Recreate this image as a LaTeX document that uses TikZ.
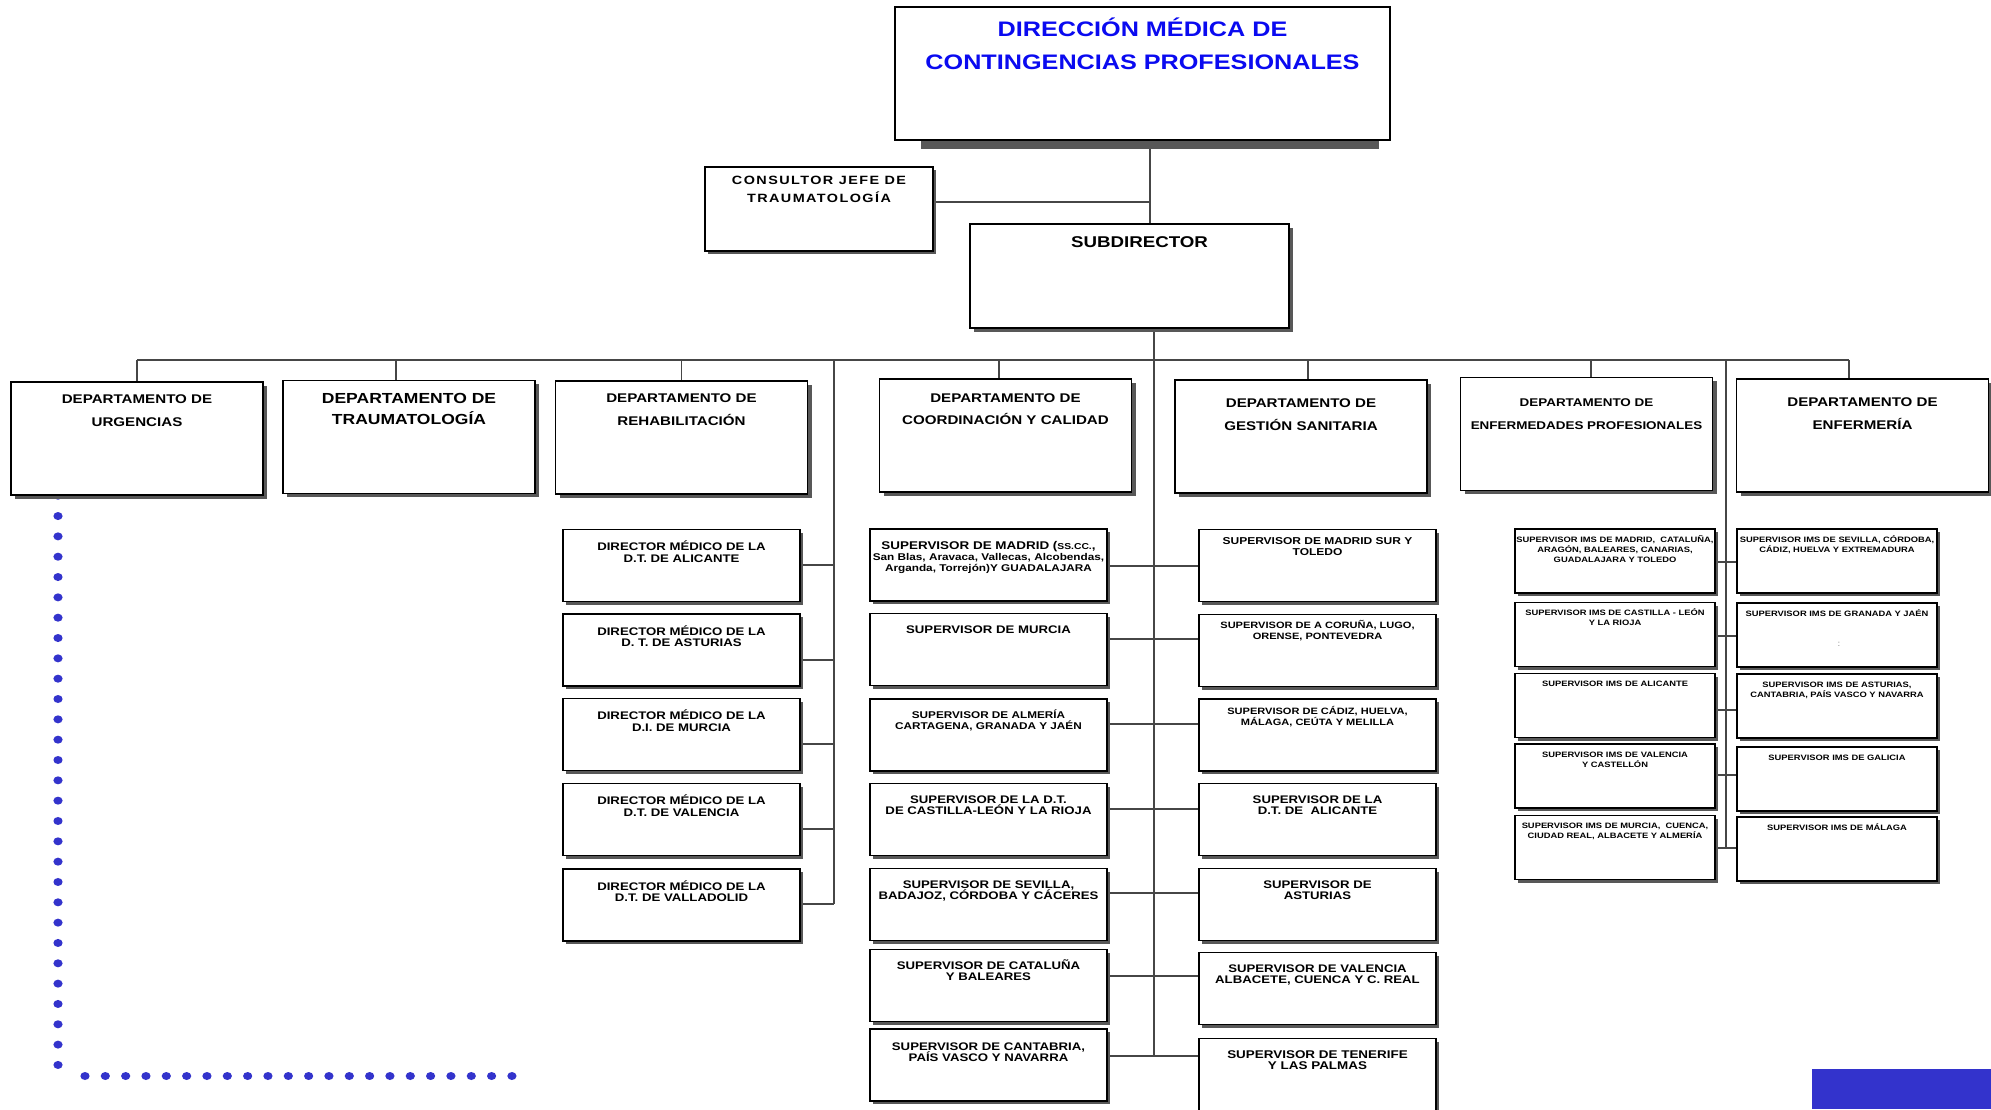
\documentclass[tikz,border=0pt]{standalone}
\usepackage{fontspec}
\setmainfont{Liberation Sans}[FakeStretch=1.2]
\usepackage{xcolor}
\usetikzlibrary{positioning,shadows,backgrounds}

\definecolor{titleblue}{RGB}{10,10,240}
\definecolor{dotblue}{RGB}{51,51,204}
\definecolor{shadowgray}{RGB}{88,88,88}
\definecolor{linegray}{RGB}{70,70,70}
\lineskiplimit=-20pt

\begin{document}
\begin{tikzpicture}[
      x=0.5pt, y=-0.5pt,
      box_plain/.style={
         draw=black,
         line width=0.6pt,
         fill=white,
         inner sep=0pt},
      box_big/.style={
         box_plain,
         drop shadow={shadow xshift=2pt,shadow yshift=-1.8pt,fill=shadowgray,opacity=1}},
      box_small/.style={
         box_plain,
         drop shadow={shadow xshift=1.5pt,shadow yshift=-1.5pt,fill=shadowgray,opacity=1}},
      box_dept/.style={
         box_big,
         minimum width=126pt,
         minimum height=56.5pt},
      box_sup/.style={
         box_small,
         minimum width=118.5pt,
         minimum height=36pt},
      box_ims/.style={
         box_small,
         minimum width=100pt,
         minimum height=32pt},
      txt/.style={
         inner sep=0pt,
         align=center},
      conn/.style={
         draw=linegray,
         line width=0.6pt}
]
      \useasboundingbox (0,0) rectangle (1991,1109);

      %direction
      \node[box_plain, minimum width=247.5pt, minimum height=66.5pt] (dir) at (1142.5,73.5) {};
      \fill[shadowgray] ([xshift=13.5pt,yshift=-0.3pt]dir.south west) rectangle ([xshift=-6pt,yshift=-4pt]dir.south east);
      \node[txt, font=\bfseries\fontsize{10.5}{16.5}\selectfont, text=titleblue,
            below=5.3pt of dir.north] (dir_txt) {DIRECCIÓN MÉDICA DE\\CONTINGENCIAS PROFESIONALES};

      %consultant and subdirector
      \node[box_small, minimum width=114pt, minimum height=42pt] (cons) at (819,209) {};
      \node[txt, font=\bfseries\fontsize{6}{8.7}\selectfont\addfontfeature{LetterSpace=12},
            below=4.9pt of cons.north] (cons_txt) {CONSULTOR JEFE DE\\TRAUMATOLOGÍA};
      \node[box_big, minimum width=159.5pt, minimum height=52pt] (sub) at (1129.5,276) {};
      \node[txt, font=\bfseries\fontsize{7.8}{9}\selectfont,
            below=6.2pt of sub.north, xshift=5pt] (sub_txt) {SUBDIRECTOR};

      %trunk points
      \coordinate (j_top) at (1150,202);
      \coordinate (bus) at (0,360);
      \coordinate (t_reh) at (834,904);
      \coordinate (t_mid) at (1154,1056);
      \coordinate (t_ims) at (1726,848);

      %blue dots
      \foreach \k in {0,...,28}
        \fill[dotblue] (58,495.7+20.33*\k) ellipse (2.3pt and 2pt);
      \foreach \k in {0,...,21}
        \fill[dotblue] (85+20.33*\k,1076) ellipse (2.3pt and 2pt);
      \fill[dotblue] (1812,1069) rectangle (1991,1109);

      %departments
      \foreach \nm/\cx/\cy/\fs/\bs/\dy/\txt in {% name/x/y/size/skip/offset/text
        urg/137/438.5/6.3/11.5/6.6pt/{DEPARTAMENTO DE\\URGENCIAS},
        trau/409/437/7.3/10.8/6.3pt/{DEPARTAMENTO DE\\TRAUMATOLOGÍA},
        reh/681.5/437.5/6.3/11.5/6.6pt/{DEPARTAMENTO DE\\REHABILITACIÓN},
        coord/1005.5/435.5/6.3/11.4/7.2pt/{DEPARTAMENTO DE\\COORDINACIÓN Y CALIDAD},
        gest/1301/436.5/6.3/11.5/9.2pt/{DEPARTAMENTO DE\\GESTIÓN SANITARIA},
        enfp/1586.5/434/5.6/11.5/10.5pt/{DEPARTAMENTO DE\\ENFERMEDADES PROFESIONALES},
        enfm/1862.5/435.5/6.3/11.5/9.2pt/{DEPARTAMENTO DE\\ENFERMERÍA}}
      {
        \node[box_dept] (\nm) at (\cx,\cy) {};
        \node[txt, font=\bfseries\fontsize{\fs}{\bs}\selectfont, below=\dy of \nm.north] (\nm_txt) {\txt};
      }

      %directors of rehabilitation
      \foreach \nm/\cy/\txt in {% name/y/text
        rd1/565.5/{DIRECTOR MÉDICO DE LA\\D.T. DE ALICANTE},
        rd2/650/{DIRECTOR MÉDICO DE LA\\D. T. DE ASTURIAS},
        rd3/734.5/{DIRECTOR MÉDICO DE LA\\D.I. DE MURCIA},
        rd4/819.5/{DIRECTOR MÉDICO DE LA\\D.T. DE VALENCIA},
        rd5/905/{DIRECTOR MÉDICO DE LA\\D.T. DE VALLADOLID}}
      {
        \node[box_sup] (\nm) at (681.5,\cy) {};
        \node[txt, font=\bfseries\fontsize{5.5}{5.6}\selectfont, below=5.9pt of \nm.north] (\nm_txt) {\txt};
      }

      %supervisors, coordination (left) and management (right)
      \foreach \nm/\cx/\cy/\fs/\dy/\txt in {% name/x/y/size/offset/text
        cs1/988.5/565/4.9/6.3pt/{{\fontsize{5.6}{5.7}\selectfont SUPERVISOR DE MADRID ({\fontsize{4.3}{5}\selectfont SS.CC.},}\\San Blas, Aravaca, Vallecas, Alcobendas,\\Arganda, Torrejón)Y GUADALAJARA},
        cs2/988.5/649.5/5.5/6.3pt/{SUPERVISOR DE MURCIA},
        cs3/988.5/735/4.9/5.3pt/{SUPERVISOR DE ALMERÍA\\CARTAGENA, GRANADA Y JAÉN},
        cs4/988.5/819.5/5.5/6.3pt/{SUPERVISOR DE LA D.T.\\DE CASTILLA-LEÓN Y LA RIOJA},
        cs5/988.5/904.5/5.5/6.3pt/{SUPERVISOR DE SEVILLA,\\BADAJOZ, CÓRDOBA Y CÁCERES},
        cs6/988.5/985.5/5.5/5.2pt/{SUPERVISOR DE CATALUÑA\\Y BALEARES},
        cs7/988.5/1065/5.5/6.9pt/{SUPERVISOR DE CANTABRIA,\\PAÍS VASCO Y NAVARRA},
        gs1/1317.5/565.5/5.0/4.1pt/{SUPERVISOR DE MADRID SUR Y\\TOLEDO},
        gs2/1317.5/650.5/4.6/3.1pt/{SUPERVISOR DE A CORUÑA, LUGO,\\ORENSE, PONTEVEDRA},
        gs3/1317.5/735/4.6/3.7pt/{SUPERVISOR DE CÁDIZ, HUELVA,\\MÁLAGA, CEÚTA Y MELILLA},
        gs4/1317.5/819.5/5.5/6.3pt/{SUPERVISOR DE LA\\D.T. DE \ ALICANTE},
        gs5/1317.5/904.5/5.5/6.3pt/{SUPERVISOR DE\\ASTURIAS},
        gs6/1317.5/988.5/5.5/6.3pt/{SUPERVISOR DE VALENCIA\\ALBACETE, CUENCA Y C. REAL},
        gs7/1317.5/1074.5/5.6/6.3pt/{SUPERVISOR DE TENERIFE\\Y LAS PALMAS}}
      {
        \node[box_sup] (\nm) at (\cx,\cy) {};
        \node[txt, font=\bfseries\fontsize{\fs}{5.6}\selectfont, below=\dy of \nm.north] (\nm_txt) {\txt};
      }

      %supervisors IMS
      \foreach \nm/\cx/\cy/\dy/\txt in {% name/x/y/offset/text
        il1/1615/561/3.3pt/{SUPERVISOR IMS DE MADRID, \ CATALUÑA,\\ARAGÓN, BALEARES, CANARIAS,\\GUADALAJARA Y TOLEDO},
        il2/1615/634.5/3.3pt/{SUPERVISOR IMS DE CASTILLA - LEÓN\\Y LA RIOJA},
        il3/1615/705.5/4.1pt/{SUPERVISOR IMS DE ALICANTE},
        il4/1615/776/4.1pt/{SUPERVISOR IMS DE VALENCIA\\Y CASTELLÓN},
        il5/1615/847.5/4.1pt/{SUPERVISOR IMS DE MURCIA, \ CUENCA,\\CIUDAD REAL, ALBACETE Y ALMERÍA},
        ir1/1837/561/3.3pt/{SUPERVISOR IMS DE SEVILLA, CÓRDOBA,\\CÁDIZ, HUELVA Y EXTREMADURA},
        ir2/1837/635/3.3pt/{SUPERVISOR IMS DE GRANADA Y JAÉN},
        ir3/1837/706/4.1pt/{SUPERVISOR IMS DE ASTURIAS,\\CANTABRIA, PAÍS VASCO Y NAVARRA},
        ir4/1837/779/4.1pt/{SUPERVISOR IMS DE GALICIA},
        ir5/1837/849/3.3pt/{SUPERVISOR IMS DE MÁLAGA}}
      {
        \node[box_ims] (\nm) at (\cx,\cy) {};
        \node[txt, font=\bfseries\fontsize{3.9}{5}\selectfont, below=\dy of \nm.north] (\nm_txt) {\txt};
      }
      \node[inner sep=0pt, font=\fontsize{4}{4}\selectfont, text=gray] (ir2_colon) at (1839,644) {:};

      %lines
      \begin{scope}[on background layer]
        \fill[white] (0,0) rectangle (1991,1109);
        \draw[conn] ([yshift=-4pt]dir.south -| j_top) -- (sub.north -| j_top);
        \draw[conn] (cons.east |- j_top) -- (j_top);
        \draw[conn] (sub.south -| t_mid) -- (t_mid);
        \draw[conn] (urg.north |- bus) -- ([xshift=-6.75pt]enfm.north |- bus);
        \foreach \nm/\s in {urg/0pt, trau/-6.5pt, reh/0pt, coord/-3.25pt,
                            gest/3.5pt, enfp/2.25pt, enfm/-6.75pt}
          \draw[conn] ([xshift=\s]\nm.north |- bus) -- ([xshift=\s]\nm.north);
        \draw[conn] (t_reh |- bus) -- (t_reh);
        \draw[conn] (t_ims |- bus) -- (t_ims);

        \foreach \i/\y in {rd1/565, rd2/660, rd3/744, rd4/829, rd5/904}
          \draw[conn] (\i.east |- 0,\y) -- (t_reh |- 0,\y);
        \foreach \i/\j/\y in {% left box/right box/height
          cs1/gs1/566, cs2/gs2/639, cs3/gs3/724, cs4/gs4/809,
          cs5/gs5/893, cs6/gs6/976, cs7/gs7/1056,
          il1/ir1/562, il2/ir2/636, il3/ir3/710, il4/ir4/775, il5/ir5/848}
          \draw[conn] (\i.east |- 0,\y) -- (\j.west |- 0,\y);
      \end{scope}

\end{tikzpicture}
\end{document}
